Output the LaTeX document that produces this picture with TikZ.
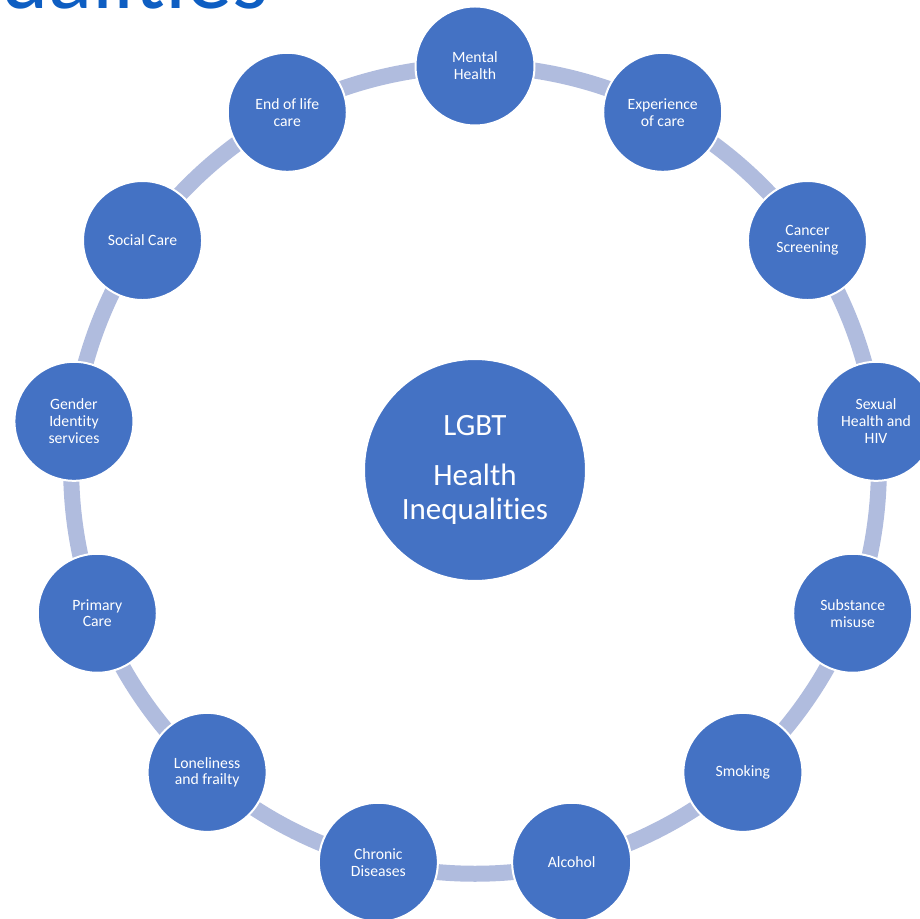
\documentclass[tikz,border=0pt]{standalone}
\usepackage{fontspec}
\setmainfont[Ligatures={NoCommon}]{Carlito}
\usetikzlibrary{backgrounds}
\definecolor{topicblue}{RGB}{68,114,196}
\definecolor{linkblue}{RGB}{176,188,222}
\definecolor{titleblue}{RGB}{14,94,194}
\tikzset{%
  topic/.style={circle,fill=topicblue,draw=white,line width=2pt,
    minimum size=119pt,inner sep=0pt,align=center,text=white,
    font=\fontsize{15.7}{16.8}\selectfont},
  hub/.style={topic,minimum size=222pt,font=\fontsize{31}{34}\selectfont},
  link/.style={linkblue,line width=16pt,bend left=13.85,looseness=0.85},
  slidetitle/.style={text=titleblue,inner sep=0pt,
    font=\fontsize{92}{96}\selectfont}
}

\begin{document}
\begin{tikzpicture}[x=1pt,y=1pt]
    \useasboundingbox (0,0) rectangle (919,919);
    \def\R{404} % ring radius
    \def\angStep{27.6923} % 360/13
    \coordinate (O) at (475,449);

    % heading, mostly above the page
    \node[slidetitle,anchor=base east] (heading) at (269,910) {ualities};

    \node[hub] (hub) at (O) {LGBT\\[16pt]Health\\Inequalities};

    % the thirteen topics, clockwise from the top
    \foreach \i/\txt in {0/{Mental\\Health},1/{Experience\\of care},
        2/{Cancer\\Screening},3/{Sexual\\Health and\\HIV},
        4/{Substance\\misuse},5/{Smoking},6/{Alcohol},
        7/{Chronic\\Diseases},8/{Loneliness\\and frailty},
        9/{Primary\\Care},10/{Gender\\Identity\\services},
        11/{Social Care},12/{End of life\\care}} {
      \node[topic] (t\i) at ([shift={(90-\i*\angStep:\R)}]O) {\txt};
    }

    % ring segments behind the circles
    \begin{scope}[on background layer]
      \foreach \i in {0,...,12} {
        \pgfmathtruncatemacro\j{mod(\i+1,13)}
        \draw[link] (t\i.center) to (t\j.center);
      }
    \end{scope}
\end{tikzpicture}
\end{document}
